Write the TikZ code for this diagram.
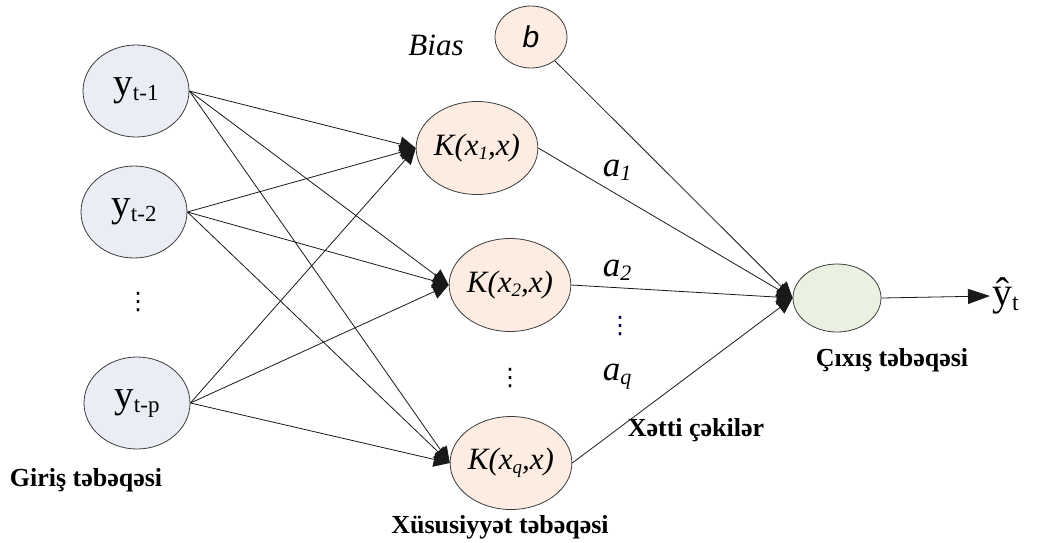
\documentclass[tikz,border=0pt]{standalone}
\usepackage{fontspec}
\setmainfont{Liberation Serif}
\setsansfont{Liberation Sans}
\newfontfamily\symfont{DejaVu Sans}
\usetikzlibrary{arrows.meta,shapes.geometric}

\definecolor{inputfill}{RGB}{234,238,244}
\definecolor{kernfill}{RGB}{252,236,226}
\definecolor{outfill}{RGB}{235,241,224}
\definecolor{rim}{RGB}{60,60,60}

% y with a lowered subscript
\newcommand{\ysub}[1]{y\raisebox{-5pt}{\fontsize{23}{23}\selectfont #1}}
% lowered small subscript of a given size
\newcommand{\lsub}[2]{\raisebox{-4pt}{\fontsize{#1}{#1}\selectfont #2}}

\begin{document}
\begin{tikzpicture}[x=1pt,y=-1pt,
  unit/.style={ellipse, draw=rim, line width=0.8pt, inner sep=0pt},
  inp/.style={unit, fill=inputfill, minimum width=106pt, minimum height=92pt,
    font=\fontsize{39}{40}\selectfont},
  kern/.style={unit, fill=kernfill, minimum width=108pt, minimum height=93pt,
    font=\fontsize{31}{32}\selectfont\itshape},
  biasnode/.style={unit, fill=kernfill, minimum width=72pt, minimum height=62pt,
    font=\fontsize{30}{30}\selectfont\sffamily\itshape},
  outnode/.style={unit, fill=outfill, minimum width=88pt, minimum height=68pt},
  layer/.style={font=\fontsize{26}{28}\selectfont\bfseries},
  weight/.style={font=\fontsize{35}{36}\selectfont\itshape},
  link/.style={draw=black!90, line width=0.8pt, -{Triangle[length=16pt,width=15pt]}},
  dots/.style={font=\fontsize{24}{24}\selectfont\symfont}
]
\useasboundingbox (0,0) rectangle (1039,542);

% input layer
\node[inp] (in1) at (136,91)  {\ysub{t-1}};
\node[inp] (in2) at (134,212) {\ysub{t-2}};
\node[inp] (inp) at (137,403) {\ysub{t-p}};
\node[dots] (d1) at (138,302) {⋮};
\node[layer] (lin) at (86,480) {Giriş təbəqəsi};

% feature layer
\node[kern] (k1) at (477,148) {K(x\lsub{19}{1},x)};
\node[kern] (k2) at (510,285) {K(x\lsub{19}{2},x)};
\node[kern] (kq) at (511,463) {K(x\lsub{19}{q},x)};
\node[dots] (d2) at (510,378) {⋮};
\node[layer] (lk) at (500,527) {Xüsusiyyət təbəqəsi};

% bias
\node[biasnode] (b) at (531,37) {b};
\node[font=\fontsize{31}{31}\selectfont\itshape] (lb) at (436,45) {Bias};

% output layer
\node[outnode] (out) at (837,298) {};
\node[layer] (lout) at (892,360) {Çıxış təbəqəsi};
\node[font=\fontsize{40}{42}\selectfont, anchor=west, inner sep=2pt] (yhat) at (990,296) {ŷ\raisebox{-5pt}{\fontsize{24}{24}\selectfont t}};

% weights
\node[weight] (a1) at (617,170) {a\lsub{22}{1}};
\node[weight] (a2) at (617,270) {a\lsub{22}{2}};
\node[dots, text=black!70!blue] (d3) at (620,326) {⋮};
\node[weight] (aq) at (617,377) {a\lsub{22}{q}};
\node[layer] (lw) at (696,430) {Xətti çəkilər};

% connections from inputs to kernels
\foreach \s in {in1,in2,inp}
  \foreach \t in {k1,k2,kq}
    \draw[link] (\s.east) -- (\t.west);

% connections into the output unit
\foreach \s in {k1,k2,kq}
  \draw[link] (\s.east) -- (out.west);
\draw[link] (b) -- (out.west);

% prediction
\draw[link, -{Triangle[length=22pt,width=15pt]}] (out.east) -- (yhat.west);
\end{tikzpicture}
\end{document}
